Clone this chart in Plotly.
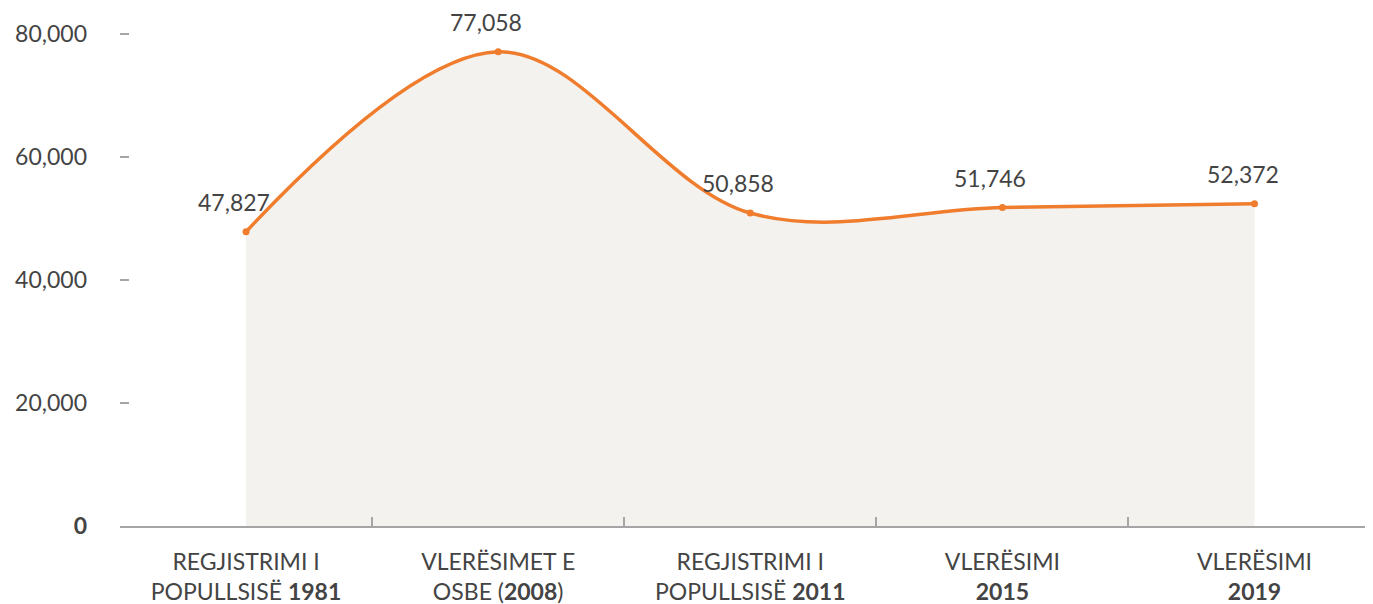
import plotly.graph_objects as go

categories = [
    "REGJISTRIMI I<br>POPULLSISË <b>1981</b>",
    "VLERËSIMET E<br>OSBE (<b>2008</b>)",
    "REGJISTRIMI I<br>POPULLSISË <b>2011</b>",
    "VLERËSIMI<br><b>2015</b>",
    "VLERËSIMI<br><b>2019</b>",
]
values = [47827, 77058, 50858, 51746, 52372]
y_ticks = [0, 20000, 40000, 60000, 80000]
y_tick_labels = ["<b>0</b>", "20,000", "40,000", "60,000", "80,000"]

ORANGE = "#ef7d2d"
FILL = "#f3f2ef"
TEXT = "#444444"
AXIS = "#a5a5a5"
FONT = "Lato"

fig = go.Figure()
fig.add_trace(go.Scatter(
    x=categories, y=values,
    mode="lines+markers",
    line=dict(color=ORANGE, width=3.5, shape="spline", smoothing=1.0),
    marker=dict(color=ORANGE, size=7),
    fill="tozeroy", fillcolor=FILL,
    hoverinfo="skip", cliponaxis=False,
))

for c, v in zip(categories, values):
    fig.add_annotation(
        x=c, y=v, text=f"{v:,}", showarrow=False,
        xanchor="center", yanchor="bottom", yshift=14, xshift=-12,
        font=dict(family=FONT, size=23, color=TEXT),
    )

fig.update_layout(
    width=1365, height=596,
    margin=dict(l=112, r=0, t=12, b=78),
    paper_bgcolor="white", plot_bgcolor="white",
    showlegend=False,
    font=dict(family=FONT, size=23, color=TEXT),
)
fig.update_xaxes(
    type="category", range=[-0.5, 4.47],
    showgrid=False, zeroline=False,
    showline=True, linecolor=AXIS, linewidth=2,
    ticks="inside", tickson="boundaries", ticklen=9, tickcolor=AXIS, tickwidth=1.5,
    ticklabelstandoff=14,
    tickfont=dict(family=FONT, size=23, color=TEXT),
)
fig.update_yaxes(
    range=[0, 82228],
    showgrid=False, zeroline=False, showline=False,
    tickmode="array", tickvals=y_ticks, ticktext=y_tick_labels,
    ticks="inside", ticklen=9, tickcolor=AXIS, tickwidth=1.5,
    ticklabelstandoff=32,
    tickfont=dict(family=FONT, size=23, color=TEXT),
)

fig.write_html("out.html")
